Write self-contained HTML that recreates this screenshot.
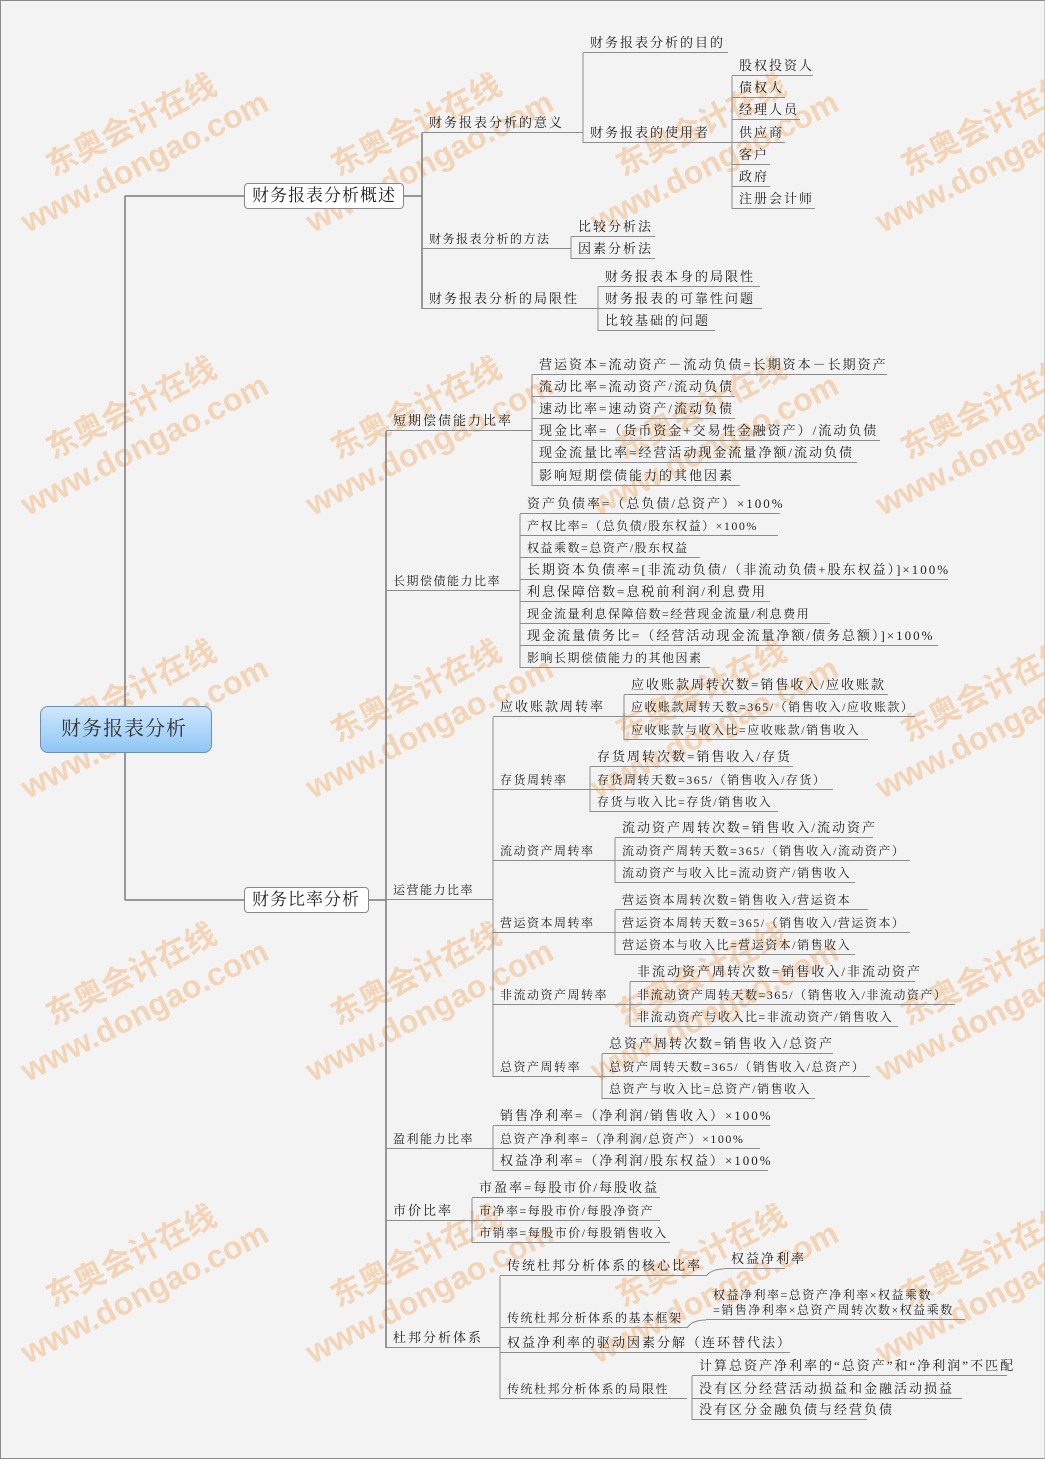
<!DOCTYPE html>
<html><head><meta charset="utf-8">
<style>
*{margin:0;padding:0;box-sizing:border-box}
body{width:1045px;height:1459px;background:#f3f3f3;position:relative;overflow:hidden;font-family:"Liberation Serif","Noto Serif CJK SC",serif;color:#222}
.frame{position:absolute;left:0;top:0;width:1045px;height:1459px;border:1px solid #8a8a8a;border-right-color:#ccc}
.wm{position:absolute;width:320px;height:90px;transform:rotate(-27deg);color:rgba(243,176,110,0.45);font-family:"Liberation Sans","Noto Sans CJK SC",sans-serif;font-weight:bold;line-height:38px;white-space:nowrap}
.wm .a{font-size:31px;padding-left:48px}
.wm .b{font-size:32px}
.t{position:absolute;height:20px;line-height:20px;border-bottom:1px solid #8c8c8c;padding-left:7px;white-space:nowrap;font-size:14px;letter-spacing:1px}
.s{font-size:12px;letter-spacing:1.5px}
.m{font-size:13px;letter-spacing:2px}
svg{position:absolute;left:0;top:0}
.root{position:absolute;left:40px;top:706px;width:172px;height:47px;border:1px solid #6d8fae;border-radius:8px;background:linear-gradient(#cfe7fc,#8fc6f6);font-size:20px;line-height:45px;padding-left:20px;color:#333;letter-spacing:1px}
.box{position:absolute;height:26px;border:1px solid #888;border-radius:4px;background:#fff;font-size:17px;line-height:24px;padding-left:7px;white-space:nowrap;letter-spacing:1px}
</style></head><body>
<div class="frame"></div>

<div class="wm" style="left:0px;top:95px"><div class="a">东奥会计在线</div><div class="b">www.dongao.com</div></div>
<div class="wm" style="left:285px;top:95px"><div class="a">东奥会计在线</div><div class="b">www.dongao.com</div></div>
<div class="wm" style="left:570px;top:95px"><div class="a">东奥会计在线</div><div class="b">www.dongao.com</div></div>
<div class="wm" style="left:855px;top:95px"><div class="a">东奥会计在线</div><div class="b">www.dongao.com</div></div>
<div class="wm" style="left:0px;top:378px"><div class="a">东奥会计在线</div><div class="b">www.dongao.com</div></div>
<div class="wm" style="left:285px;top:378px"><div class="a">东奥会计在线</div><div class="b">www.dongao.com</div></div>
<div class="wm" style="left:570px;top:378px"><div class="a">东奥会计在线</div><div class="b">www.dongao.com</div></div>
<div class="wm" style="left:855px;top:378px"><div class="a">东奥会计在线</div><div class="b">www.dongao.com</div></div>
<div class="wm" style="left:0px;top:661px"><div class="a">东奥会计在线</div><div class="b">www.dongao.com</div></div>
<div class="wm" style="left:285px;top:661px"><div class="a">东奥会计在线</div><div class="b">www.dongao.com</div></div>
<div class="wm" style="left:570px;top:661px"><div class="a">东奥会计在线</div><div class="b">www.dongao.com</div></div>
<div class="wm" style="left:855px;top:661px"><div class="a">东奥会计在线</div><div class="b">www.dongao.com</div></div>
<div class="wm" style="left:0px;top:944px"><div class="a">东奥会计在线</div><div class="b">www.dongao.com</div></div>
<div class="wm" style="left:285px;top:944px"><div class="a">东奥会计在线</div><div class="b">www.dongao.com</div></div>
<div class="wm" style="left:570px;top:944px"><div class="a">东奥会计在线</div><div class="b">www.dongao.com</div></div>
<div class="wm" style="left:855px;top:944px"><div class="a">东奥会计在线</div><div class="b">www.dongao.com</div></div>
<div class="wm" style="left:0px;top:1226px"><div class="a">东奥会计在线</div><div class="b">www.dongao.com</div></div>
<div class="wm" style="left:285px;top:1226px"><div class="a">东奥会计在线</div><div class="b">www.dongao.com</div></div>
<div class="wm" style="left:570px;top:1226px"><div class="a">东奥会计在线</div><div class="b">www.dongao.com</div></div>
<div class="wm" style="left:855px;top:1226px"><div class="a">东奥会计在线</div><div class="b">www.dongao.com</div></div>

<svg width="1045" height="1459" fill="none" stroke="#8c8c8c" stroke-width="1">
<g stroke="#7a7a7a" stroke-width="1.5">
<path d="M125 196V900M125 196H244M125 900H244"/>
<path d="M404 196H422M422 133V309"/>
<path d="M369 900H386M386 431V1348"/>
</g>
<path d="M583 53V143M732 76V209M571 237V259M598 287V331"/>
<path d="M532 375V486M520 514V668M493 717V1077"/>
<path d="M624 695V740M590 767V812M615 838V883M615 910V955M630 982V1027M602 1054V1099"/>
<path d="M493 1126V1171M472 1198V1243M500 1276V1399M692 1376V1420"/>
<path d="M706 1276Q712 1269 724 1269M687 1328Q692 1320 706 1320"/>
</svg>

<div class="root">财务报表分析</div>
<div class="box" style="left:244px;top:183px;width:160px">财务报表分析概述</div>
<div class="box" style="left:244px;top:887px;width:125px">财务比率分析</div>

<div class="t m" style="left:422px;top:113px;width:161px">财务报表分析的意义</div>
<div class="t m" style="left:583px;top:33px;width:145px">财务报表分析的目的</div>
<div class="t m" style="left:583px;top:123px;width:149px">财务报表的使用者</div>
<div class="t m" style="left:732px;top:56px;width:81px">股权投资人</div>
<div class="t m" style="left:732px;top:78px;width:53px">债权人</div>
<div class="t m" style="left:732px;top:100px;width:68px">经理人员</div>
<div class="t m" style="left:732px;top:123px;width:53px">供应商</div>
<div class="t m" style="left:732px;top:145px;width:38px">客户</div>
<div class="t m" style="left:732px;top:167px;width:38px">政府</div>
<div class="t m" style="left:732px;top:189px;width:83px">注册会计师</div>
<div class="t s" style="left:422px;top:229px;width:149px">财务报表分析的方法</div>
<div class="t m" style="left:571px;top:217px;width:84px">比较分析法</div>
<div class="t m" style="left:571px;top:239px;width:84px">因素分析法</div>
<div class="t m" style="left:422px;top:289px;width:176px">财务报表分析的局限性</div>
<div class="t m" style="left:598px;top:267px;width:162px">财务报表本身的局限性</div>
<div class="t m" style="left:598px;top:289px;width:164px">财务报表的可靠性问题</div>
<div class="t m" style="left:598px;top:311px;width:117px">比较基础的问题</div>

<div class="t m" style="left:386px;top:411px;width:146px">短期偿债能力比率</div>
<div class="t m" style="left:532px;top:355px;width:355px">营运资本=流动资产－流动负债=长期资本－长期资产</div>
<div class="t m" style="left:532px;top:377px;width:203px">流动比率=流动资产/流动负债</div>
<div class="t m" style="left:532px;top:399px;width:203px">速动比率=速动资产/流动负债</div>
<div class="t m" style="left:532px;top:421px;width:348px">现金比率=（货币资金+交易性金融资产）/流动负债</div>
<div class="t m" style="left:532px;top:443px;width:325px">现金流量比率=经营活动现金流量净额/流动负债</div>
<div class="t m" style="left:532px;top:466px;width:208px">影响短期偿债能力的其他因素</div>

<div class="t s" style="left:386px;top:571px;width:134px">长期偿债能力比率</div>
<div class="t m" style="left:520px;top:494px;width:260px">资产负债率=（总负债/总资产）×100%</div>
<div class="t s" style="left:520px;top:516px;width:258px">产权比率=（总负债/股东权益）×100%</div>
<div class="t s" style="left:520px;top:538px;width:180px">权益乘数=总资产/股东权益</div>
<div class="t m" style="left:520px;top:560px;width:428px">长期资本负债率=[非流动负债/（非流动负债+股东权益）]×100%</div>
<div class="t m" style="left:520px;top:582px;width:250px">利息保障倍数=息税前利润/利息费用</div>
<div class="t s" style="left:520px;top:604px;width:310px">现金流量利息保障倍数=经营现金流量/利息费用</div>
<div class="t m" style="left:520px;top:626px;width:418px">现金流量债务比=（经营活动现金流量净额/债务总额）]×100%</div>
<div class="t s" style="left:520px;top:648px;width:190px">影响长期偿债能力的其他因素</div>

<div class="t s" style="left:386px;top:880px;width:107px">运营能力比率</div>
<div class="t m" style="left:493px;top:697px;width:131px">应收账款周转率</div>
<div class="t m" style="left:624px;top:675px;width:264px">应收账款周转次数=销售收入/应收账款</div>
<div class="t s" style="left:624px;top:697px;width:291px">应收账款周转天数=365/（销售收入/应收账款）</div>
<div class="t s" style="left:624px;top:720px;width:244px">应收账款与收入比=应收账款/销售收入</div>
<div class="t s" style="left:493px;top:770px;width:97px">存货周转率</div>
<div class="t m" style="left:590px;top:747px;width:203px">存货周转次数=销售收入/存货</div>
<div class="t s" style="left:590px;top:770px;width:243px">存货周转天数=365/（销售收入/存货）</div>
<div class="t s" style="left:590px;top:792px;width:188px">存货与收入比=存货/销售收入</div>
<div class="t s" style="left:493px;top:841px;width:122px">流动资产周转率</div>
<div class="t m" style="left:615px;top:818px;width:258px">流动资产周转次数=销售收入/流动资产</div>
<div class="t s" style="left:615px;top:841px;width:295px">流动资产周转天数=365/（销售收入/流动资产）</div>
<div class="t s" style="left:615px;top:863px;width:240px">流动资产与收入比=流动资产/销售收入</div>
<div class="t s" style="left:493px;top:913px;width:122px">营运资本周转率</div>
<div class="t s" style="left:615px;top:890px;width:253px">营运资本周转次数=销售收入/营运资本</div>
<div class="t s" style="left:615px;top:913px;width:295px">营运资本周转天数=365/（销售收入/营运资本）</div>
<div class="t s" style="left:615px;top:935px;width:240px">营运资本与收入比=营运资本/销售收入</div>
<div class="t s" style="left:493px;top:985px;width:137px">非流动资产周转率</div>
<div class="t m" style="left:630px;top:962px;width:285px">非流动资产周转次数=销售收入/非流动资产</div>
<div class="t s" style="left:630px;top:985px;width:325px">非流动资产周转天数=365/（销售收入/非流动资产）</div>
<div class="t s" style="left:630px;top:1007px;width:268px">非流动资产与收入比=非流动资产/销售收入</div>
<div class="t s" style="left:493px;top:1057px;width:109px">总资产周转率</div>
<div class="t m" style="left:602px;top:1034px;width:231px">总资产周转次数=销售收入/总资产</div>
<div class="t s" style="left:602px;top:1057px;width:268px">总资产周转天数=365/（销售收入/总资产）</div>
<div class="t s" style="left:602px;top:1079px;width:213px">总资产与收入比=总资产/销售收入</div>

<div class="t s" style="left:386px;top:1129px;width:107px">盈利能力比率</div>
<div class="t m" style="left:493px;top:1106px;width:277px">销售净利率=（净利润/销售收入）×100%</div>
<div class="t s" style="left:493px;top:1129px;width:267px">总资产净利率=（净利润/总资产）×100%</div>
<div class="t m" style="left:493px;top:1151px;width:275px">权益净利率=（净利润/股东权益）×100%</div>

<div class="t m" style="left:386px;top:1201px;width:86px">市价比率</div>
<div class="t m" style="left:472px;top:1178px;width:188px">市盈率=每股市价/每股收益</div>
<div class="t s" style="left:472px;top:1201px;width:188px">市净率=每股市价/每股净资产</div>
<div class="t s" style="left:472px;top:1223px;width:198px">市销率=每股市价/每股销售收入</div>

<div class="t m" style="left:386px;top:1328px;width:114px">杜邦分析体系</div>
<div class="t m" style="left:500px;top:1256px;width:206px">传统杜邦分析体系的核心比率</div>
<div class="t m" style="left:724px;top:1249px;width:61px">权益净利率</div>
<div class="t s" style="left:500px;top:1308px;width:187px">传统杜邦分析体系的基本框架</div>
<div class="t s" style="left:706px;top:1288px;width:259px;height:32px;line-height:15px;white-space:pre">权益净利率=总资产净利率×权益乘数
=销售净利率×总资产周转次数×权益乘数</div>
<div class="t m" style="left:500px;top:1333px;width:290px">权益净利率的驱动因素分解（连环替代法）</div>
<div class="t s" style="left:500px;top:1379px;width:187px">传统杜邦分析体系的局限性</div>
<div class="t m" style="left:692px;top:1356px;width:315px">计算总资产净利率的“总资产”和“净利润”不匹配</div>
<div class="t m" style="left:692px;top:1379px;width:270px">没有区分经营活动损益和金融活动损益</div>
<div class="t m" style="left:692px;top:1400px;width:175px">没有区分金融负债与经营负债</div>
</body></html>
